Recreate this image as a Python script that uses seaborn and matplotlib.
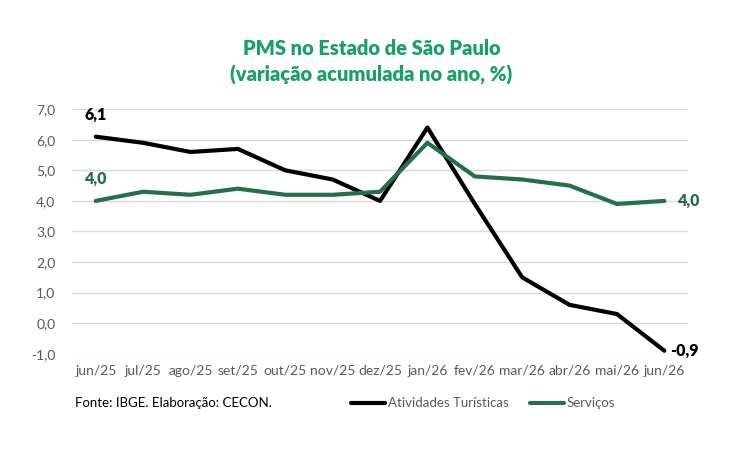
import matplotlib
matplotlib.use("Agg")
import matplotlib.pyplot as plt
import seaborn as sns
import pandas as pd
from matplotlib.lines import Line2D

meses = ["jun/25", "jul/25", "ago/25", "set/25", "out/25", "nov/25", "dez/25",
         "jan/26", "fev/26", "mar/26", "abr/26", "mai/26", "jun/26"]
turisticas = [6.1, 5.9, 5.6, 5.7, 5.0, 4.7, 4.0, 6.4, 3.9, 1.5, 0.6, 0.3, -0.9]
servicos = [4.0, 4.3, 4.2, 4.4, 4.2, 4.2, 4.3, 5.9, 4.8, 4.7, 4.5, 3.9, 4.0]
y_ticks = [-1, 0, 1, 2, 3, 4, 5, 6, 7]

BLACK = "#000000"
GREEN = "#24704a"
TITLE_GREEN = "#1a9e6a"
GRAY = "#595959"

n = len(meses)
df = pd.DataFrame({
    "idx": list(range(n)) * 2,
    "valor": turisticas + servicos,
    "serie": ["Atividades Turísticas"] * n + ["Serviços"] * n,
})

sns.set_theme(style="white")
plt.rcParams["font.family"] = ["Lato", "DejaVu Sans"]

fig = plt.figure(figsize=(7.43, 4.53), dpi=100)
ax = fig.add_axes([0.097, 0.219, 0.829, 0.540])

sns.lineplot(data=df, x="idx", y="valor", hue="serie",
             palette={"Atividades Turísticas": BLACK, "Serviços": GREEN},
             linewidth=3, ax=ax, legend=False, sort=False)

ax.set_xlim(-0.5, n - 0.5)
ax.set_ylim(-1, 7)
ax.set_yticks(y_ticks)
ax.set_yticklabels([f"{v:.1f}".replace(".", ",") for v in y_ticks])
ax.set_xticks(range(n))
ax.set_xticklabels(meses)
ax.tick_params(axis="both", labelsize=10, colors=GRAY, length=0)
ax.tick_params(axis="x", pad=8)
ax.tick_params(axis="y", pad=12)
ax.grid(axis="y", color="#d9d9d9", linewidth=1)
ax.grid(axis="x", visible=False)
for s in ax.spines.values():
    s.set_visible(False)
ax.set_xlabel("")
ax.set_ylabel("")

def fmt(v):
    return f"{v:.1f}".replace(".", ",")

ax.annotate(fmt(turisticas[0]), (0, turisticas[0]), xytext=(0, 10),
            textcoords="offset points", ha="center", va="bottom",
            fontsize=11.5, fontweight="heavy", color=BLACK)
ax.annotate(fmt(servicos[0]), (0, servicos[0]), xytext=(0, 10),
            textcoords="offset points", ha="center", va="bottom",
            fontsize=11.5, fontweight="heavy", color=GREEN)
ax.annotate(fmt(servicos[-1]), (n - 1, servicos[-1]), xytext=(10, 0),
            textcoords="offset points", ha="left", va="center",
            fontsize=11.5, fontweight="heavy", color=GREEN)
ax.annotate(fmt(turisticas[-1]), (n - 1, turisticas[-1]), xytext=(4, 0),
            textcoords="offset points", ha="left", va="center",
            fontsize=11.5, fontweight="heavy", color=BLACK)

fig.text(0.5, 0.893, "PMS no Estado de São Paulo", ha="center", va="center",
         fontsize=14.5, fontweight="heavy", color=TITLE_GREEN)
fig.text(0.5, 0.834, "(variação acumulada no ano, %)", ha="center", va="center",
         fontsize=14.5, fontweight="heavy", color=TITLE_GREEN)

fig.text(0.101, 0.110, "Fonte: IBGE. Elaboração: CECON.", ha="left", va="center",
         fontsize=9.5, color="#000000")

handles = [Line2D([0], [0], color=BLACK, linewidth=3),
           Line2D([0], [0], color=GREEN, linewidth=3)]
fig.legend(handles, ["Atividades Turísticas", "Serviços"],
           loc="center left", bbox_to_anchor=(0.472, 0.110), ncol=2,
           frameon=False, fontsize=9.5, handlelength=2.6, handletextpad=0.2,
           columnspacing=1.6, labelcolor=GRAY, borderaxespad=0, borderpad=0)

fig.savefig("out.png", dpi=100, facecolor="white")
